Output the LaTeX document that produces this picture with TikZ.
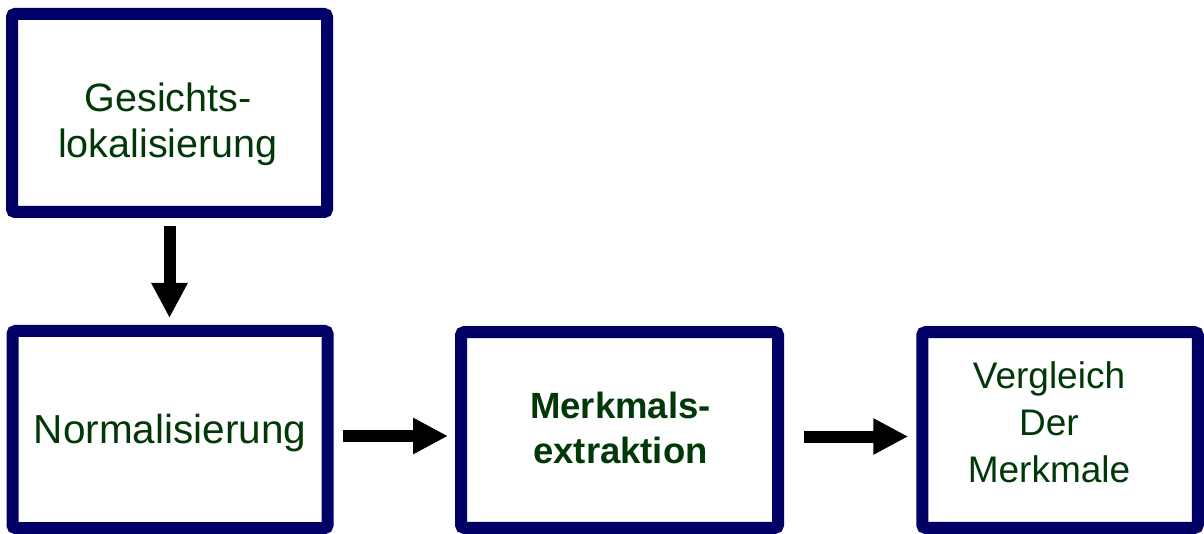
\documentclass[tikz,border=0pt]{standalone}
\usepackage{fontspec}
\setmainfont{Liberation Sans}
\usetikzlibrary{arrows.meta}
\definecolor{boxnavy}{RGB}{0,0,102}
\definecolor{textgreen}{RGB}{0,56,8}
\tikzset{
  stagebox/.style={draw=boxnavy, line width=12pt, rounded corners=3pt, fill=white,
    inner sep=0pt, outer sep=6pt},
  stagetext/.style={text=textgreen, align=center, inner sep=0pt},
  bigarrow/.style={line width=12pt, -{Triangle[length=35pt,width=34pt]}}
}
\begin{document}
\begin{tikzpicture}[x=1pt,y=-1pt]
\useasboundingbox (0,0) rectangle (1204,534);
% boxes
\node[stagebox, minimum width=315pt, minimum height=198pt] (b1) at (169.5,113) {};
\node[stagebox, minimum width=315pt, minimum height=197pt] (b2) at (170,429.5) {};
\node[stagebox, minimum width=317pt, minimum height=195.5pt] (b3) at (619.5,430) {};
\node[stagebox, minimum width=275.5pt, minimum height=195.5pt] (b4) at (1060,430) {};
% texts
\node[stagetext, font=\fontsize{39.5}{46}\selectfont] (t1) at (168,124) {Gesichts-\\lokalisierung};
\node[stagetext, font=\fontsize{40.5}{47}\selectfont] (t2) at (170,433) {Normalisierung};
\node[stagetext, font=\fontsize{36.5}{45}\selectfont\bfseries] (t3) at (620.5,428) {Merkmals-\\extraktion};
\node[stagetext, font=\fontsize{37}{47}\selectfont] (t4) at (1049,422.5) {Vergleich\\Der\\Merkmale};
% arrows
\draw[bigarrow, shorten <=8pt, shorten >=7pt] (b1.south) -- (b1.south |- b2.north);
\draw[bigarrow, shorten <=9pt, shorten >=7pt] ([yshift=-6.5pt]b2.east) -- ([yshift=-6.5pt]b2.east -| b3.west);
\draw[bigarrow, shorten <=20pt, shorten >=8pt] ([yshift=-6.5pt]b3.east) -- ([yshift=-6.5pt]b3.east -| b4.west);
\end{tikzpicture}
\end{document}
